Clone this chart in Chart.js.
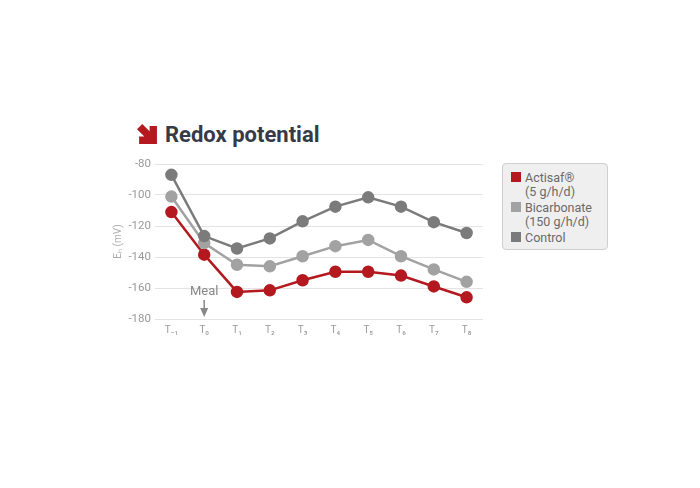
<!DOCTYPE html>
<html>
<head>
<meta charset="utf-8">
<script src="https://cdn.jsdelivr.net/npm/chart.js@4"></script>
<style>
  body { margin: 0; background: #fff; font-family: "Roboto", sans-serif; }
  #wrap { position: relative; width: 700px; height: 488px; }
  #title { position: absolute; left: 137px; top: 122px; font-size: 22px; font-weight: bold; color: #363a47; display: flex; align-items: center; }
  #title svg { margin-right: 7px; }
  #chartBox { position: absolute; left: 100px; top: 150px; width: 400px; height: 200px; }
  #legend { position: absolute; left: 502px; top: 163px; width: 106px; height: 87px; background: #efefef; border: 1px solid #cfcfcf; border-radius: 4px; box-sizing: border-box; padding: 7px 0 0 8px; font-size: 12.5px; color: #6a6a6a; line-height: 13.5px; }
  .item { display: flex; align-items: flex-start; margin-bottom: 3px; }
  .sw { width: 10px; height: 10px; margin: 1px 4px 0 0; flex: none; }
</style>
</head>
<body>
<div id="wrap">
  <div id="title">
    <svg width="21" height="21" viewBox="0 0 20 20">
      <polygon points="0,5 5,0 12,7 12,2 19,2 19,19 2,19 2,12 7,12" fill="#b5191f"/>
    </svg>
    Redox potential
  </div>
  <div id="chartBox"><canvas id="lineChart"></canvas></div>
  <div id="legend"></div>
</div>
<script>
const labels = ["T₋₁", "T₀", "T₁", "T₂", "T₃", "T₄", "T₅", "T₆", "T₇", "T₈"];
const seriesNames = [["Actisaf®", "(5 g/h/d)"], ["Bicarbonate", "(150 g/h/d)"], ["Control"]];
const seriesColors = ["#b3191f", "#a2a2a2", "#7b7b7b"];
const actisaf = [-111, -138.5, -162.5, -161.5, -155, -149.5, -149.5, -152, -159, -166];
const bicarbonate = [-101, -131, -145, -146, -139.5, -133, -129, -139.5, -148, -156];
const control = [-87, -126.5, -134.5, -128, -117, -107.5, -101.5, -107.5, -117.5, -124.5];
const yTicks = { min: -180, max: -80, step: 20 };

/* LEGEND */
const legend = document.getElementById("legend");
seriesNames.forEach((name, i) => {
    const div = document.createElement("div");
    div.className = "item";
    div.innerHTML = `<span class="sw" style="background:${seriesColors[i]}"></span><span>${name.join("<br>")}</span>`;
    legend.appendChild(div);
});

/* MEAL MARKER */
const mealMarker = {
    id: "mealMarker",
    afterDatasetsDraw(chart) {
        const ctx = chart.ctx;
        const x = chart.scales.x.getPixelForValue(1);
        const yText = chart.scales.y.getPixelForValue(-162.5);
        ctx.save();
        ctx.fillStyle = "#888";
        ctx.strokeStyle = "#888";
        ctx.font = "13px Roboto, sans-serif";
        ctx.textAlign = "center";
        ctx.textBaseline = "middle";
        ctx.fillText("Meal", x, yText);
        ctx.lineWidth = 1.5;
        ctx.beginPath();
        ctx.moveTo(x, yText + 8);
        ctx.lineTo(x, yText + 22);
        ctx.stroke();
        ctx.beginPath();
        ctx.moveTo(x - 4, yText + 16);
        ctx.lineTo(x + 4, yText + 16);
        ctx.lineTo(x, yText + 25);
        ctx.closePath();
        ctx.fill();
        ctx.restore();
    }
};

const makeSet = (data, i) => ({
    label: seriesNames[i].join(" "),
    data: data,
    borderColor: seriesColors[i],
    backgroundColor: seriesColors[i],
    borderWidth: 2.5,
    pointRadius: 5,
    pointHoverRadius: 5,
    tension: 0
});

new Chart(document.getElementById("lineChart"), {
    type: "line",
    data: {
        labels: labels,
        datasets: [makeSet(control, 2), makeSet(bicarbonate, 1), makeSet(actisaf, 0)]
    },
    options: {
        responsive: true,
        maintainAspectRatio: false,
        animation: false,
        layout: { padding: { top: 14, right: 17, left: 10, bottom: 0 } },
        plugins: { legend: { display: false }, tooltip: { enabled: false } },
        scales: {
            x: {
                offset: true,
                grid: { display: false, drawTicks: false },
                border: { display: false },
                ticks: { color: "#999", font: { size: 10, family: "Roboto, sans-serif" }, padding: 5 },
                afterFit: s => { s.height = 31; }
            },
            y: {
                min: yTicks.min,
                max: yTicks.max,
                ticks: { stepSize: yTicks.step, color: "#999", font: { size: 11.5, family: "Roboto, sans-serif" }, padding: 4 },
                grid: { color: "#e3e3e3", drawTicks: false, lineWidth: 1 },
                border: { display: false },
                title: { display: true, text: "Eₕ (mV)", color: "#aaa", font: { size: 10, family: "Roboto, sans-serif" }, padding: 2 },
                afterFit: s => { s.width = 45; }
            }
        }
    },
    plugins: [mealMarker]
});
</script>
</body>
</html>
